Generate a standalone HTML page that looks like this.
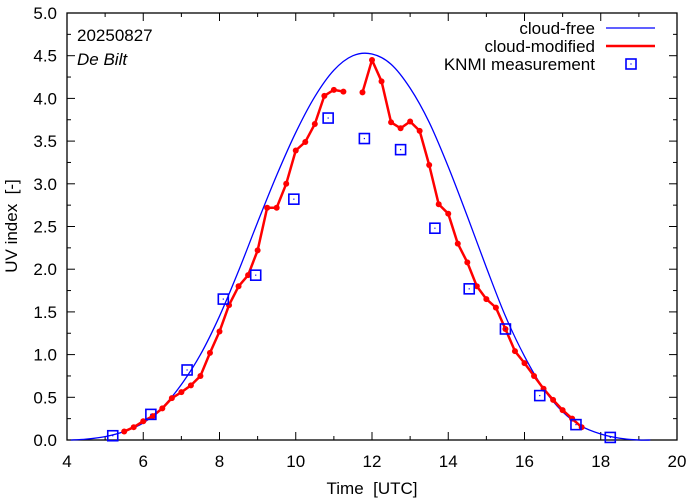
<!DOCTYPE html>
<html><head><meta charset="utf-8"><style>
html,body{margin:0;padding:0;background:#fff;}
svg{display:block;font-family:"Liberation Sans",sans-serif;}
</style></head><body>
<svg id="chart" width="694" height="501" viewBox="0 0 694 501" xmlns="http://www.w3.org/2000/svg"></svg>
<script>
const redTimes1=[5.5,5.75,6,6.25,6.5,6.75,7,7.25,7.5,7.75,8,8.25,8.5,8.75,9,9.25,9.5,9.75,10,10.25,10.5,10.75,11,11.25];
const redValues1=[0.10,0.15,0.22,0.28,0.37,0.49,0.56,0.64,0.75,1.02,1.27,1.58,1.80,1.93,2.22,2.72,2.72,3.00,3.39,3.49,3.70,4.03,4.10,4.08];
const redTimes2=[11.75,12,12.25,12.5,12.75,13,13.25,13.5,13.75,14,14.25,14.5,14.75,15,15.25,15.5,15.75,16,16.25,16.5,16.75,17,17.25,17.5];
const redValues2=[4.07,4.45,4.20,3.72,3.65,3.73,3.62,3.22,2.76,2.65,2.30,2.08,1.80,1.65,1.55,1.30,1.04,0.90,0.75,0.60,0.47,0.35,0.25,0.15];
const measTimes=[5.2,6.2,7.15,8.1,8.95,9.95,10.85,11.8,12.75,13.65,14.55,15.5,16.4,17.35,18.25];
const measValues=[0.05,0.30,0.82,1.65,1.93,2.82,3.77,3.53,3.40,2.48,1.77,1.30,0.52,0.18,0.03];
const clearTimes=[4.1,4.5,5,5.5,6,6.5,7,7.5,8,8.5,9,9.5,10,10.5,11,11.5,12,12.5,13,13.5,14,14.5,15,15.5,16,16.5,17,17.5,18,18.5,19,19.3];
const clearValues=[0,0.01,0.04,0.1,0.2,0.38,0.65,1.0,1.45,1.98,2.55,3.1,3.6,4.02,4.33,4.5,4.52,4.4,4.12,3.72,3.2,2.62,2.02,1.45,0.98,0.6,0.33,0.16,0.07,0.02,0.0,0];
const xTicks=[4,6,8,10,12,14,16,18,20];
const yTicks=["0.0","0.5","1.0","1.5","2.0","2.5","3.0","3.5","4.0","4.5","5.0"];

const NS="http://www.w3.org/2000/svg";
const svg=document.getElementById('chart');
const L=67,R=677,T=13,B=440;
const FS=17;
const X=v=>L+(v-4)/16*(R-L);
const Y=v=>B-v/5*(B-T);
function mk(tag,attrs,parent){const e=document.createElementNS(NS,tag);for(const k in attrs)e.setAttribute(k,attrs[k]);(parent||svg).appendChild(e);return e;}

for(let v=4;v<=20;v+=1){
  const major=(v%2===0);const len=major?8:4;
  const t1=mk('line',{x1:X(v),x2:X(v),y1:B,y2:B-len,stroke:'#000','stroke-width':1});
  
  const t2=mk('line',{x1:X(v),x2:X(v),y1:T,y2:T+len,stroke:'#000','stroke-width':1});
  
}
for(let i=0;i<=20;i++){
  const v=i*0.25;const major=(i%2===0);const len=major?8:4;
  const t1=mk('line',{x1:L,x2:L+len,y1:Y(v),y2:Y(v),stroke:'#000','stroke-width':1});
  
  const t2=mk('line',{x1:R,x2:R-len,y1:Y(v),y2:Y(v),stroke:'#000','stroke-width':1});
  
}
xTicks.forEach(v=>{
  const t=mk('text',{x:X(v),y:467,'text-anchor':'middle','font-size':FS});
  
  t.textContent=v;
});
yTicks.forEach(s=>{
  const t=mk('text',{x:57,y:Y(parseFloat(s))+6,'text-anchor':'end','font-size':FS});
  
  t.textContent=s;
});
const frame=mk('rect',{x:L,y:T,width:R-L,height:B-T,fill:'none',stroke:'#000','stroke-width':1.3});


function smooth(xs,ys){
  const p=xs.map((x,i)=>[X(x),Y(ys[i])]);
  let d='M'+p[0][0]+','+p[0][1];
  for(let i=0;i<p.length-1;i++){
    const p0=p[Math.max(0,i-1)],p1=p[i],p2=p[i+1],p3=p[Math.min(p.length-1,i+2)];
    const c1=[p1[0]+(p2[0]-p0[0])/6,p1[1]+(p2[1]-p0[1])/6];
    const c2=[p2[0]-(p3[0]-p1[0])/6,p2[1]-(p3[1]-p1[1])/6];
    d+=` C${c1[0]},${c1[1]} ${c2[0]},${c2[1]} ${p2[0]},${p2[1]}`;
  }
  return d;
}
const cf=mk('path',{d:smooth(clearTimes,clearValues),fill:'none',stroke:'#0000ff','stroke-width':1.3});


function redSeg(ts,vs,name){
  const pl=mk('polyline',{points:ts.map((t,i)=>X(t)+','+Y(vs[i])).join(' '),fill:'none',stroke:'#ff0000','stroke-width':2.5,'stroke-linejoin':'round'});
  
  ts.forEach((t,i)=>{
    const c=mk('circle',{cx:X(t),cy:Y(vs[i]),r:3,fill:'#ff0000'});
    
  });
}
redSeg(redTimes1,redValues1,'cloud-modified-line-morning');
redSeg(redTimes2,redValues2,'cloud-modified-line-afternoon');

function square(cx,cy,name){
  const g=mk('g',{});
  
  mk('rect',{x:cx-5,y:cy-5,width:10,height:10,fill:'none',stroke:'#0000ff','stroke-width':1.6},g);
  mk('rect',{x:cx-0.6,y:cy-0.6,width:1.2,height:1.2,fill:'#0000ff'},g);
}
measTimes.forEach((t,i)=>square(X(t),Y(measValues[i]),'knmi-measurement-point'));

const lg=mk('g',{});

const legT=[['cloud-free',28],['cloud-modified',46],['KNMI measurement',64]];
legT.forEach(([s,y])=>{
  const t=mk('text',{x:595,y:y+6,'text-anchor':'end','font-size':FS},lg);
  
  t.textContent=s;
});
mk('line',{x1:606,x2:655,y1:28,y2:28,stroke:'#0000ff','stroke-width':1.3},lg);
mk('line',{x1:606,x2:655,y1:46,y2:46,stroke:'#ff0000','stroke-width':2.5},lg);
square(631,64,'legend-measurement-symbol');

const d1=mk('text',{x:77,y:41,'font-size':FS});
d1.textContent='20250827';
const d2=mk('text',{x:77,y:65,'font-size':FS,'font-style':'italic'});
d2.textContent='De Bilt';
const xt=mk('text',{x:372,y:494,'text-anchor':'middle','font-size':FS});
xt.textContent='Time  [UTC]';
xt.style.whiteSpace='pre';
const yt=mk('text',{x:0,y:0,'text-anchor':'middle','font-size':FS,transform:'translate(17,226) rotate(-90)'});
yt.textContent='UV index  [-]';
yt.style.whiteSpace='pre';
</script>
</body></html>
